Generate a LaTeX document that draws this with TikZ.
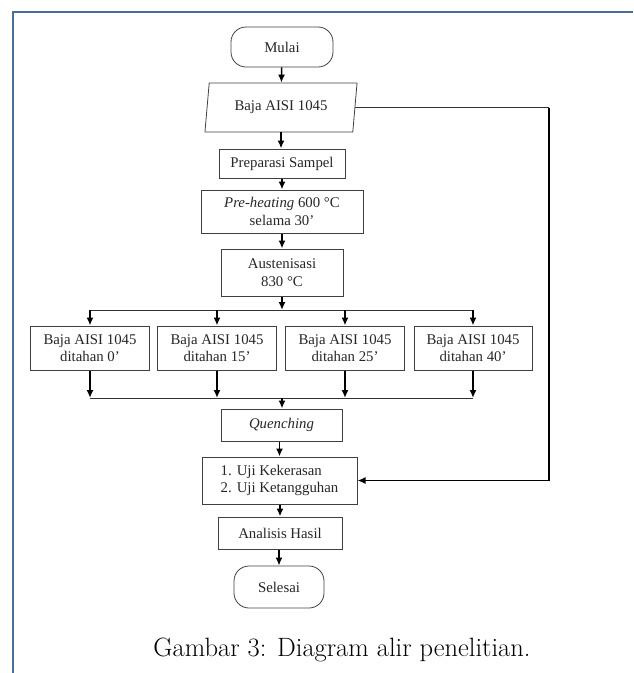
\documentclass[tikz,border=0pt]{standalone}
\usepackage{fontspec}
\newfontfamily\tnr{Liberation Serif}
\usetikzlibrary{positioning,arrows.meta,shapes.geometric}
\definecolor{framecol}{RGB}{74,110,150}

\begin{document}
\begin{tikzpicture}[x=1pt, y=-1pt,
  every node/.style={font=\tnr\fontsize{14.8}{17.5}\selectfont, text=black!85},
  term/.style={draw=black!75, line width=0.8pt, rounded corners=15pt, inner sep=0pt},
  io/.style={draw=black!75, line width=0.8pt, trapezium, trapezium left angle=78,
             trapezium right angle=102, trapezium stretches=true, inner sep=0pt},
  proc/.style={draw=black!75, line width=1pt, align=center, inner sep=0pt},
  flow/.style={-{Latex[length=8pt,width=7pt]}, line width=1.6pt},
  link/.style={line width=0.8pt, black!80}
]
  \useasboundingbox (0,0) rectangle (633,673);

  % --- Page frame (cropped) ---
  \draw[framecol, line width=1.5pt] (13,673) -- (13,12) -- (633,12);

  % --- Main column (top to bottom) ---
  \node[term, minimum width=102pt, minimum height=40pt] (mulai) at (282,47) {Mulai};
  \node[io, minimum width=153pt, minimum height=49pt]   (baja)  at (281,107.5) {Baja AISI 1045};
  \node[proc, minimum width=126pt, minimum height=29pt] (prep)  at (282,163.5) {Preparasi Sampel};
  \node[proc, minimum width=162pt, minimum height=43pt] (heat)  at (282,211.5)
    {\textit{Pre-heating} 600 °C\\selama 30’};
  \node[proc, minimum width=122pt, minimum height=47pt] (aus)   at (282,272.5)
    {Austenisasi\\830 °C};

  % --- Holding time variants ---
  \node[proc, minimum width=119pt, minimum height=44pt] (hold0)  at (90,348)
    {Baja AISI 1045\\ditahan 0’};
  \node[proc, minimum width=119pt, minimum height=44pt] (hold15) at (217,348)
    {Baja AISI 1045\\ditahan 15’};
  \node[proc, minimum width=119pt, minimum height=44pt] (hold25) at (345,348)
    {Baja AISI 1045\\ditahan 25’};
  \node[proc, minimum width=118pt, minimum height=44pt] (hold40) at (473,348)
    {Baja AISI 1045\\ditahan 40’};

  \coordinate (split) at (282,310);
  \coordinate (merge) at (282,398);

  \node[proc, minimum width=121pt, minimum height=32pt] (quench) at (281.5,425) {\textit{Quenching}};
  \node[proc, minimum width=155pt, minimum height=47pt, align=left] (uji) at (279.5,480.5)
    {1. Uji Kekerasan\\2. Uji Ketangguhan};
  \node[proc, minimum width=124pt, minimum height=32pt] (hasil) at (280,533) {Analisis Hasil};
  \node[term, minimum width=90pt, minimum height=42pt]  (selesai) at (279,587) {Selesai};

  % --- Caption ---
  \node[font=\normalfont\fontsize{26.5}{31}\selectfont, text=black] (cap) at (342,650)
    {Gambar 3: Diagram alir penelitian.};

  % --- Arrows along the main column ---
  \draw[flow] (mulai) -- (baja);
  \draw[flow] (baja.south) -- (baja.south |- prep.north);
  \draw[flow] (prep.south -| heat.north) -- (heat.north);
  \draw[flow] (heat) -- (aus);
  \draw[flow] (aus.south) -- (split);

  % --- Split into the four holding times and merge again ---
  \draw[link] (hold0.north |- split) -- (hold40.north |- split);
  \foreach \h in {hold0,hold15,hold25,hold40} {
    \draw[flow] (\h.north |- split) -- (\h.north);
    \draw[flow] (\h.south) -- (\h.south |- merge);
  }
  \draw[link] (hold0.south |- merge) -- (hold40.south |- merge);
  \draw[flow] (merge) -- (merge |- quench.north);

  \draw[flow] (quench.south -| uji.north) -- (uji.north);
  \draw[flow] (uji.south -| hasil.north) -- (hasil.north);
  \draw[flow] (hasil.south -| selesai.north) -- (selesai.north);

  % --- Bypass from raw material straight to testing ---
  \coordinate (bypass) at (549,300);
  \draw[link] (baja.east) -- (bypass |- baja.east);
  \draw[line width=1.1pt] (bypass |- baja.east) -- (bypass |- uji.east);
  \draw[flow] (bypass |- uji.east) -- (uji.east);

\end{tikzpicture}
\end{document}
